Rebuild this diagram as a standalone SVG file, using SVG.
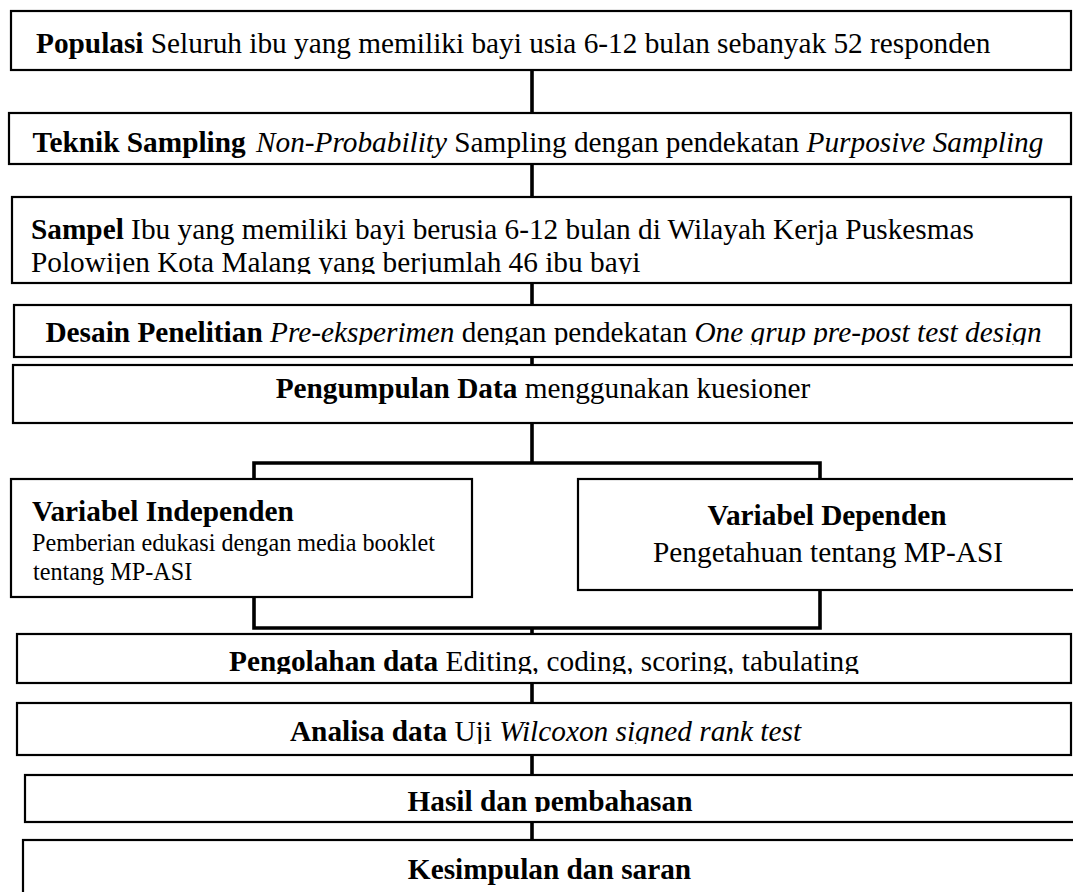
<svg xmlns="http://www.w3.org/2000/svg" width="1073" height="892" viewBox="0 0 1073 892">
<style>
.box{fill:#fff;stroke:#000;stroke-width:2.2}
.t{font-family:"Liberation Serif","Times New Roman",serif;font-size:29.3px;fill:#000}
.s{font-size:24.2px}
.b{font-weight:bold}
.i{font-style:italic}
.c{text-anchor:middle}
.con{fill:none;stroke:#000;stroke-width:3.6;stroke-linejoin:miter;stroke-linecap:butt}
</style>
<defs>
<clipPath id="cpSampel"><rect x="12" y="197" width="1059" height="77"/></clipPath>
<clipPath id="cpDesain"><rect x="14" y="305" width="1057" height="40"/></clipPath>
<clipPath id="cpOlah"><rect x="17" y="634" width="1054" height="40"/></clipPath>
<clipPath id="cpAnalisa"><rect x="17" y="703" width="1054" height="41"/></clipPath>
<clipPath id="cpHasil"><rect x="25" y="775" width="1060" height="37"/></clipPath>
</defs>
<rect width="1073" height="892" fill="#fff"/>
<g id="connectors">
<path class="con" d="M532 70V113M532 164V197M532 283V305M532 357V365M532 423V463M254 481V463H820V481"/>
<path class="con" d="M254 597V628H820V590M532 628V634M532 683V703M532 755V775M532 822V840"/>
</g>
<g id="populasi">
<rect class="box" x="11" y="11" width="1060" height="59"/>
<text class="t" x="36" y="53"><tspan class="b">Populasi</tspan> Seluruh ibu yang memiliki bayi usia 6-12 bulan sebanyak 52 responden</text>
</g>
<g id="teknik">
<rect class="box" x="9" y="113" width="1062" height="51"/>
<text class="t c" x="538" y="152"><tspan class="b">Teknik Sampling</tspan><tspan dx="3" class="i"> Non-Probability</tspan> Sampling dengan pendekatan <tspan class="i">Purposive Sampling</tspan></text>
</g>
<g id="sampel">
<rect class="box" x="12" y="197" width="1059" height="86"/>
<g clip-path="url(#cpSampel)">
<text class="t" x="31" y="239"><tspan class="b">Sampel</tspan> Ibu yang memiliki bayi berusia 6-12 bulan di Wilayah Kerja Puskesmas</text>
<text class="t" x="31" y="272">Polowijen Kota Malang yang berjumlah 46 ibu bayi</text>
</g>
</g>
<g id="desain">
<rect class="box" x="14" y="305" width="1057" height="52"/>
<g clip-path="url(#cpDesain)">
<text class="t c" x="543.5" y="342"><tspan class="b">Desain Penelitian</tspan> <tspan class="i">Pre-eksperimen</tspan> dengan pendekatan <tspan class="i">One grup pre-post test design</tspan></text>
</g>
</g>
<g id="pengumpulan">
<rect class="box" x="13" y="365" width="1070" height="58"/>
<text class="t c" x="543" y="398"><tspan class="b">Pengumpulan Data</tspan> menggunakan kuesioner</text>
</g>
<g id="independen">
<rect class="box" x="11" y="479" width="461" height="118"/>
<text class="t b" x="32" y="521">Variabel Independen</text>
<text class="t s" x="32" y="551">Pemberian edukasi dengan media booklet</text>
<text class="t s" x="33" y="580">tentang MP-ASI</text>
</g>
<g id="dependen">
<rect class="box" x="578" y="479" width="505" height="111"/>
<text class="t b c" x="827" y="525">Variabel Dependen</text>
<text class="t c" x="828" y="562">Pengetahuan tentang MP-ASI</text>
</g>
<g id="pengolahan">
<rect class="box" x="17" y="634" width="1054" height="49"/>
<g clip-path="url(#cpOlah)">
<text class="t c" x="544" y="671"><tspan class="b">Pengolahan data</tspan> Editing, coding, scoring, tabulating</text>
</g>
</g>
<g id="analisa">
<rect class="box" x="17" y="703" width="1054" height="52"/>
<g clip-path="url(#cpAnalisa)">
<text class="t c" x="545.5" y="741"><tspan class="b">Analisa data</tspan> Uji <tspan class="i">Wilcoxon signed rank test</tspan></text>
</g>
</g>
<g id="hasil">
<rect class="box" x="25" y="775" width="1060" height="47"/>
<g clip-path="url(#cpHasil)">
<text class="t b c" x="550" y="811">Hasil dan pembahasan</text>
</g>
</g>
<g id="kesimpulan">
<rect class="box" x="23" y="840" width="1062" height="70"/>
<text class="t b c" x="549.5" y="879">Kesimpulan dan saran</text>
</g>
</svg>
